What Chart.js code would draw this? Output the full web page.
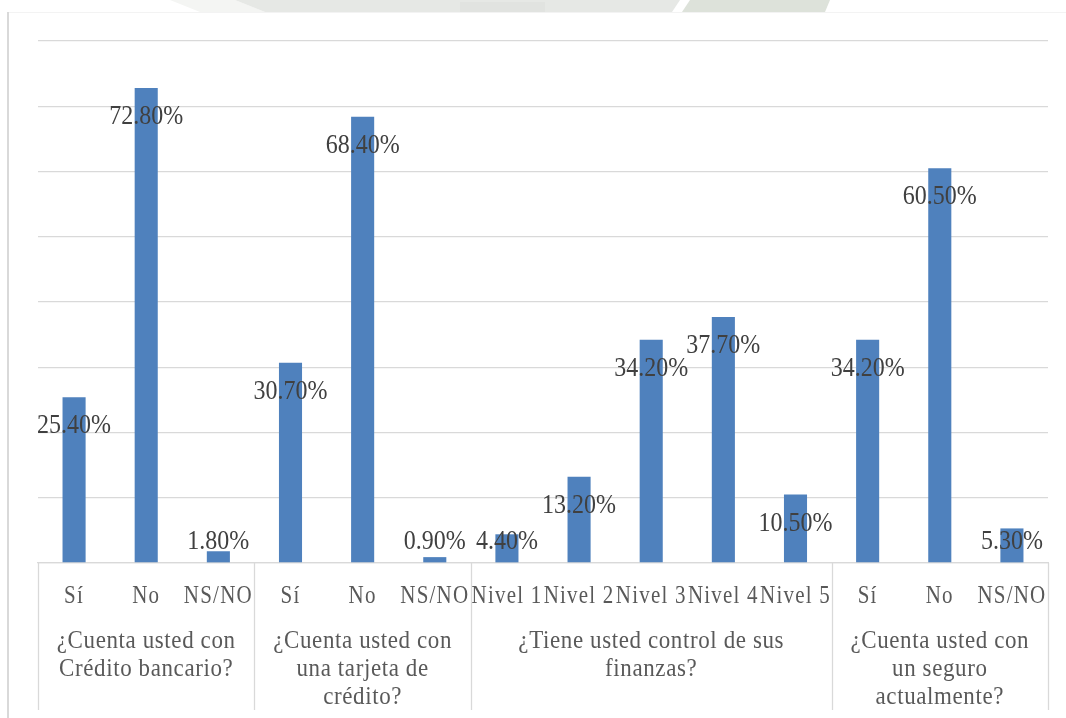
<!DOCTYPE html>
<html>
<head>
<meta charset="utf-8">
<script src="https://cdn.jsdelivr.net/npm/chart.js@4.4.1/dist/chart.umd.min.js"></script>
<style>
  html, body { margin: 0; padding: 0; background: #ffffff; }
  #wrap { width: 1066px; height: 718px; }
</style>
</head>
<body>
<div id="wrap"><canvas id="c" width="1066" height="718"></canvas></div>
<script>
// Answer options under each survey question
const categories = ['Sí', 'No', 'NS/NO', 'Sí', 'No', 'NS/NO',
  'Nivel 1', 'Nivel 2', 'Nivel 3', 'Nivel 4', 'Nivel 5',
  'Sí', 'No', 'NS/NO'];

// Share of respondents (%)
const values = [25.4, 72.8, 1.8, 30.7, 68.4, 0.9,
  4.4, 13.2, 34.2, 37.7, 10.5,
  34.2, 60.5, 5.3];

// Survey questions (wrapped lines) and how many options each one has
const questionLines = [
  ['¿Cuenta usted con', 'Crédito bancario?'],
  ['¿Cuenta usted con', 'una tarjeta de', 'crédito?'],
  ['¿Tiene usted control de sus', 'finanzas?'],
  ['¿Cuenta usted con', 'un seguro', 'actualmente?']
];
const questionSizes = [3, 3, 5, 3];

// Value axis range (%)
const yMin = 0;
const yMax = 80;
const yStep = 10;

const GRID = '#d9d9d9';
const SERIF = "'Liberation Serif', 'Times New Roman', serif";

// Text drawn slightly taller than the font's natural proportions
function tallText(ctx, text, x, y, sy) {
  ctx.save();
  ctx.translate(x, y);
  ctx.scale(1, sy);
  ctx.fillText(text, 0, 0);
  ctx.restore();
}

// Page backdrop: header strip and frame lines around the chart
const backdrop = {
  id: 'backdrop',
  beforeDraw(chart) {
    const ctx = chart.ctx;
    ctx.save();
    ctx.fillStyle = '#ffffff';
    ctx.fillRect(0, 0, chart.width, chart.height);

    // header strip
    ctx.fillStyle = '#f4f5f3';
    ctx.beginPath();
    ctx.moveTo(170, 0); ctx.lineTo(235, 0); ctx.lineTo(265, 12); ctx.lineTo(200, 12); ctx.closePath();
    ctx.fill();
    ctx.fillStyle = '#e6e8e5';
    ctx.beginPath();
    ctx.moveTo(235, 0); ctx.lineTo(680, 0); ctx.lineTo(672, 12); ctx.lineTo(265, 12); ctx.closePath();
    ctx.fill();
    ctx.fillStyle = '#dde2da';
    ctx.beginPath();
    ctx.moveTo(690, 0); ctx.lineTo(830, 0); ctx.lineTo(825, 12); ctx.lineTo(682, 12); ctx.closePath();
    ctx.fill();
    ctx.fillStyle = '#e1e3e0';
    ctx.fillRect(460, 2, 85, 10);

    // frame
    ctx.fillStyle = '#f3f3f3';
    ctx.fillRect(8, 12, chart.width - 8, 1);
    ctx.fillStyle = GRID;
    ctx.fillRect(7, 12, 2, chart.height - 12);
    ctx.restore();
  }
};

// Category labels, question separators and wrapped question titles
const questionAxis = {
  id: 'questionAxis',
  afterDraw(chart) {
    const ctx = chart.ctx;
    const x = chart.scales.x;
    const step = x.getPixelForValue(1) - x.getPixelForValue(0);
    const top = chart.chartArea.bottom;
    ctx.save();
    ctx.strokeStyle = GRID;
    ctx.lineWidth = 1.3;
    let start = 0;
    const edges = [0];
    questionSizes.forEach(n => { start += n; edges.push(start); });
    edges.forEach(e => {
      const px = Math.round(x.getPixelForValue(0) - step / 2 + e * step) + 0.5;
      ctx.beginPath();
      ctx.moveTo(px, top);
      ctx.lineTo(px, 710);
      ctx.stroke();
    });

    ctx.fillStyle = '#595959';
    ctx.textAlign = 'center';
    ctx.textBaseline = 'middle';

    // answer options
    ctx.font = '21px ' + SERIF;
    ctx.letterSpacing = '1.2px';
    categories.forEach((c, i) => {
      tallText(ctx, c, x.getPixelForValue(i), 597, 1.15);
    });

    // questions
    ctx.font = '23px ' + SERIF;
    ctx.letterSpacing = '0.6px';
    start = 0;
    questionSizes.forEach((n, g) => {
      const cx = x.getPixelForValue(start) - step / 2 + n * step / 2;
      questionLines[g].forEach((line, i) => {
        tallText(ctx, line, cx, 641 + i * 28, 1.1);
      });
      start += n;
    });
    ctx.restore();
  }
};

// Percentage labels on the bars
const valueLabels = {
  id: 'valueLabels',
  afterDatasetsDraw(chart) {
    const ctx = chart.ctx;
    const meta = chart.getDatasetMeta(0);
    const bottom = chart.scales.y.bottom;
    ctx.save();
    ctx.fillStyle = '#404040';
    ctx.font = '24px ' + SERIF;
    ctx.textAlign = 'center';
    ctx.textBaseline = 'middle';
    meta.data.forEach((bar, i) => {
      const cy = Math.min(bar.y + 29, bottom - 21);
      tallText(ctx, values[i].toFixed(2) + '%', bar.x, cy, 1.12);
    });
    ctx.restore();
  }
};

new Chart(document.getElementById('c'), {
  type: 'bar',
  data: {
    labels: categories,
    datasets: [{
      data: values,
      backgroundColor: '#4f81bd',
      borderWidth: 0,
      barPercentage: 0.32,
      categoryPercentage: 1.0
    }]
  },
  options: {
    responsive: false,
    animation: false,
    events: [],
    layout: { padding: { left: 38, right: 18, top: 41, bottom: 0 } },
    plugins: {
      legend: { display: false },
      tooltip: { enabled: false },
      title: { display: false }
    },
    scales: {
      x: {
        grid: { display: false, drawTicks: false },
        border: { display: true, color: GRID, width: 1.3 },
        ticks: { display: false },
        afterFit(scale) { scale.height = 155; }
      },
      y: {
        min: yMin,
        max: yMax,
        ticks: { display: false, stepSize: yStep },
        grid: { color: GRID, lineWidth: 1.3, drawTicks: false },
        border: { display: false },
        afterFit(scale) { scale.width = 0; }
      }
    }
  },
  plugins: [backdrop, valueLabels, questionAxis]
});
</script>
</body>
</html>
